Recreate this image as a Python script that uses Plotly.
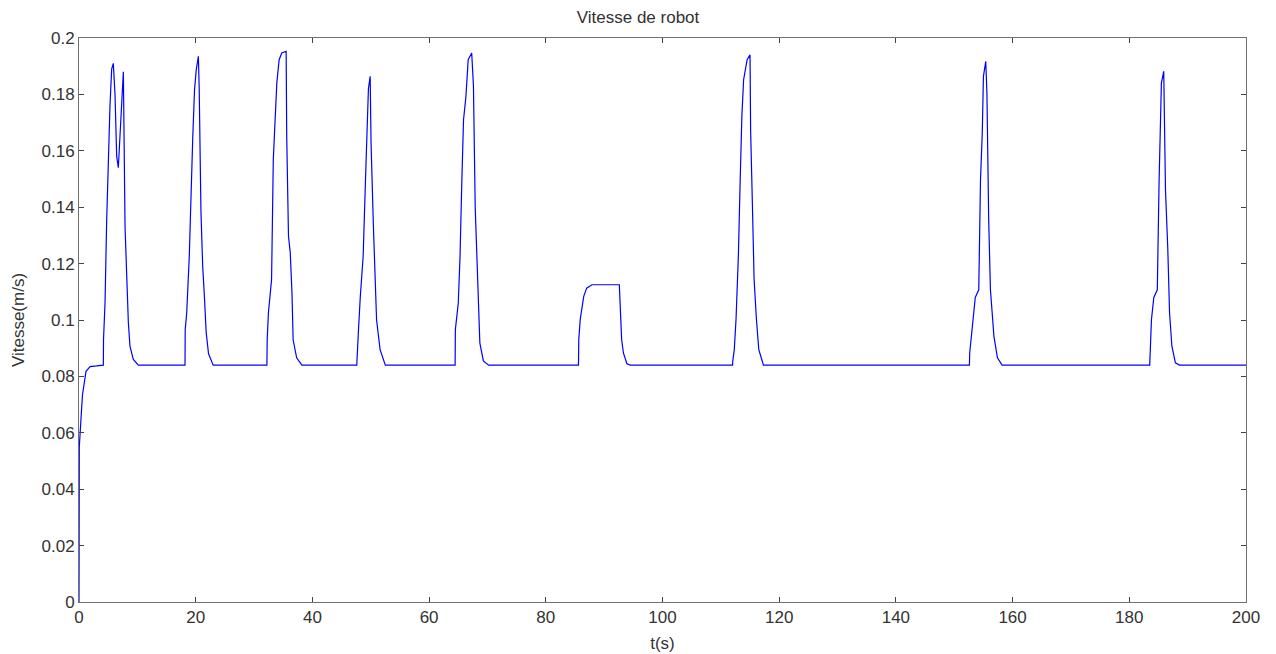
import plotly.graph_objects as go

# time (s) and robot speed (m/s)
t_s = [0, 0.02, 0.05, 0.46, 0.6, 1.2, 1.9, 3.0, 4.17,
       4.2, 4.46, 4.74, 5.03, 5.31, 5.6, 5.88, 6.17, 6.46, 6.74, 7.03, 7.31, 7.6,
       7.89, 8.17, 8.46, 8.74, 9.31, 10.17,
       18.17, 18.2, 18.46, 18.9, 19.2, 19.5, 19.8, 20.1, 20.46, 20.6, 20.9, 21.2,
       21.5, 21.8, 22.2, 23.0,
       32.2, 32.25, 32.46, 33.0, 33.3, 33.6, 33.9, 34.3, 34.75, 35.5, 35.6, 35.9,
       36.2, 36.5, 36.7, 37.3, 38.2,
       47.6, 47.65, 47.9, 48.2, 48.7, 49.1, 49.3, 49.6, 49.9, 50.05, 50.46, 50.7,
       51.0, 51.6, 52.5,
       64.46, 64.5, 65.0, 65.3, 65.6, 65.9, 66.3, 66.7, 67.3, 67.6, 67.9, 68.2,
       68.46, 68.7, 69.3, 70.2,
       85.6, 85.65, 85.9, 86.2, 86.5, 87.0, 87.9, 92.6, 92.75, 93.0, 93.3, 93.9, 94.5,
       112.0, 112.05, 112.3, 112.6, 113.0, 113.3, 113.6, 113.9, 114.5, 115.0, 115.1,
       115.4, 115.7, 116.1, 116.5, 117.3,
       152.6, 152.65, 153.0, 153.3, 153.6, 154.2, 154.5, 154.8, 155.0, 155.4, 155.6,
       155.9, 156.2, 156.5, 156.8, 157.4, 158.2,
       183.5, 183.55, 183.8, 184.2, 184.8, 185.1, 185.3, 185.5, 185.9, 186.2, 186.6,
       186.9, 187.3, 187.9, 188.6,
       200]
speed = [0, 0.04, 0.055, 0.069, 0.0735, 0.0818, 0.0835, 0.0837, 0.084,
         0.093, 0.106, 0.135, 0.157, 0.176, 0.189, 0.191, 0.180, 0.158, 0.154, 0.166, 0.181, 0.188,
         0.133, 0.114, 0.099, 0.0906, 0.086, 0.084,
         0.084, 0.0966, 0.1025, 0.1226, 0.1486, 0.165, 0.1817, 0.1888, 0.1935, 0.182, 0.1385, 0.119,
         0.108, 0.0955, 0.088, 0.084,
         0.084, 0.093, 0.1025, 0.1143, 0.157, 0.171, 0.184, 0.1923, 0.1947, 0.1953, 0.165, 0.1297,
         0.124, 0.1096, 0.093, 0.0866, 0.084,
         0.084, 0.0855, 0.0966, 0.108, 0.1226, 0.1498, 0.165, 0.182, 0.1864, 0.1628, 0.133, 0.1155,
         0.100, 0.0895, 0.084,
         0.084, 0.0966, 0.106, 0.1226, 0.1486, 0.171, 0.179, 0.1923, 0.1947, 0.183, 0.140, 0.1226,
         0.108, 0.0918, 0.0855, 0.084,
         0.084, 0.093, 0.1002, 0.1048, 0.1084, 0.1113, 0.1125, 0.1125, 0.1037, 0.093, 0.0883, 0.0845, 0.084,
         0.084, 0.0855, 0.0895, 0.1002, 0.1226, 0.1486, 0.1722, 0.1852, 0.1923, 0.194, 0.1675,
         0.1415, 0.1143, 0.1002, 0.0895, 0.084,
         0.084, 0.0883, 0.0966, 0.1025, 0.108, 0.1107, 0.1498, 0.1663, 0.1864, 0.1917, 0.1805,
         0.1356, 0.1107, 0.1025, 0.0942, 0.0866, 0.084,
         0.084, 0.0883, 0.1002, 0.108, 0.1107, 0.1486, 0.1675, 0.184, 0.1882, 0.1462, 0.125,
         0.1025, 0.0907, 0.0848, 0.084,
         0.084]

x_ticks = [0, 20, 40, 60, 80, 100, 120, 140, 160, 180, 200]
y_ticks = [0, 0.02, 0.04, 0.06, 0.08, 0.1, 0.12, 0.14, 0.16, 0.18, 0.2]
y_tick_text = ["0", "0.02", "0.04", "0.06", "0.08", "0.1", "0.12", "0.14", "0.16", "0.18", "0.2"]

fig = go.Figure()
fig.add_trace(go.Scatter(x=t_s, y=speed, mode="lines",
                         line=dict(color="#0000ff", width=1.2), showlegend=False))

font = dict(family="Liberation Sans, Arial, sans-serif", size=17, color="#333333")
axis_common = dict(showgrid=False, zeroline=False, showline=True, linecolor="#707070",
                   linewidth=1, mirror="ticks", ticks="inside", ticklen=5,
                   tickcolor="#444444", tickfont=font, automargin=False)

fig.update_layout(
    width=1276, height=654,
    margin=dict(l=79, r=30, t=38, b=52),
    paper_bgcolor="white", plot_bgcolor="white",
    title=dict(text="Vitesse de robot", x=0.5, xanchor="center", y=0.974, yanchor="middle",
               font=font),
    xaxis=dict(range=[0, 200], tickvals=x_ticks, ticktext=[str(v) for v in x_ticks],
               title=dict(text="t(s)", font=font, standoff=10), **axis_common),
    yaxis=dict(range=[0, 0.2], tickvals=y_ticks, ticktext=y_tick_text,
               title=dict(text="Vitesse(m/s)", font=font, standoff=12), **axis_common),
)

fig.write_html("out.html")
